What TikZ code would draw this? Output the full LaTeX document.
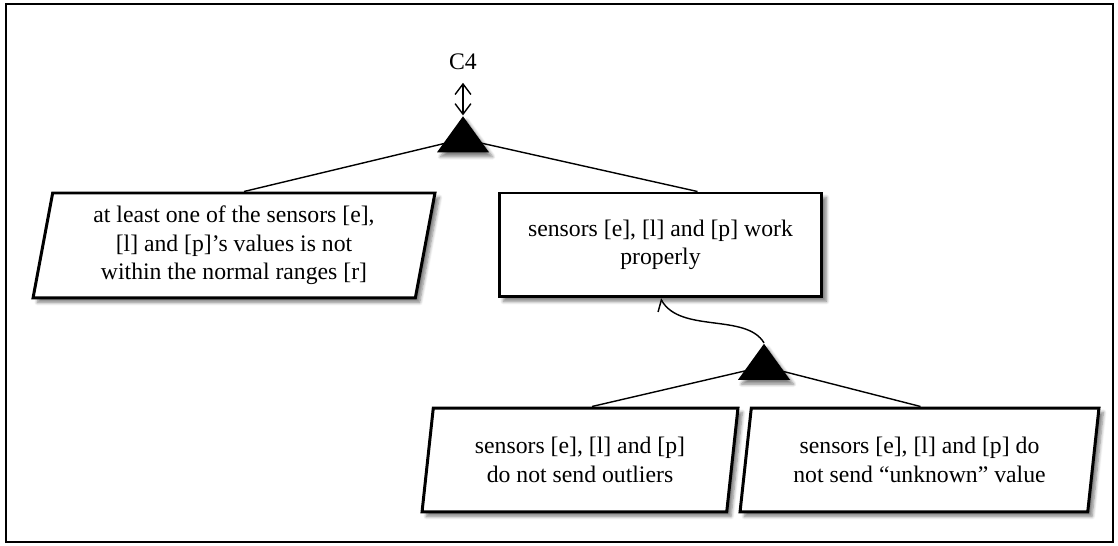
\documentclass[tikz,border=0pt]{standalone}
\usepackage{fontspec}
\setmainfont{Liberation Serif}
\usetikzlibrary{shapes.geometric,arrows.meta,calc,shadows.blur,backgrounds}

\begin{document}
\begin{tikzpicture}[x=0.02cm,y=-0.02cm]

	\tikzset{
	  goal/.style={
		draw,
		line width=1.7pt,
		fill=white,
		align=center,
		inner sep=0pt,
		font=\fontsize{13.5}{16.2}\selectfont,
		blur shadow={shadow xshift=2.5pt,shadow yshift=-2.5pt,shadow blur steps=6,shadow opacity=50},
	  },
	  slanted/.style={
		goal,
		trapezium,
		trapezium left angle=76,
		trapezium right angle=104,
		trapezium stretches body,
	  },
	  boxed/.style={goal,rectangle},
	  gate/.style={
		isosceles triangle,
		shape border rotate=90,
		isosceles triangle stretches,
		fill=black,
		inner sep=0pt,
		minimum width=1.04cm,
		minimum height=0.72cm,
		blur shadow={shadow xshift=2pt,shadow yshift=-2.5pt,shadow blur steps=6,shadow opacity=50},
	  },
	  link/.style={line width=0.8pt},
	  barb/.style={line width=0.8pt,{Straight Barb[length=6pt,width=9pt]}-{Straight Barb[length=6pt,width=9pt]}},
	}
	\useasboundingbox (0,0) rectangle (1118,546);
	\draw[line width=1.5pt] (6,4) rectangle (1113,542);

	\node[gate] (and1) at (463,139) {};
	\node[inner sep=0pt,font=\fontsize{13.5}{16.2}\selectfont] (c4) at (463,62) {C4};
	\node[slanted,minimum width=8.04cm,minimum height=2.1cm] (lgoal) at (234,245.5) {at least one of the sensors [e],\\ {[l]} and [p]’s values is not\\ within the normal ranges [r]};
	\node[boxed,minimum width=6.46cm,minimum height=2.08cm] (work) at (660.5,245) {sensors [e], [l] and [p] work\\ properly};
	\node[gate] (and2) at (764,366.5) {};
	\node[slanted,minimum width=6.32cm,minimum height=2.08cm] (outl) at (580,460) {sensors [e], [l] and [p]\\ do not send outliers};
	\node[slanted,minimum width=7.18cm,minimum height=2.08cm] (unkn) at (919.5,460) {sensors [e], [l] and [p] do\\ not send “unknown” value};

	\begin{scope}[on background layer]
		\draw[link] (and1.center) -- ($(lgoal.north)+(10,0)$);
		\draw[link] (and1.center) -- ($(work.north)+(37,0)$);
		\draw[link] (and2.center) -- ($(outl.north)+(12,0)$);
		\draw[link] (and2.center) -- ($(unkn.north)+(1,0)$);
	\end{scope}
	\draw[barb,shorten <=0.25cm] (c4.south) -- (and1.apex);
	\draw[link,-{Straight Barb[left,length=5pt,width=10pt]}] (and2.apex) .. controls +(-18,-30) and +(20,35) .. (work.south);

\end{tikzpicture}
\end{document}
